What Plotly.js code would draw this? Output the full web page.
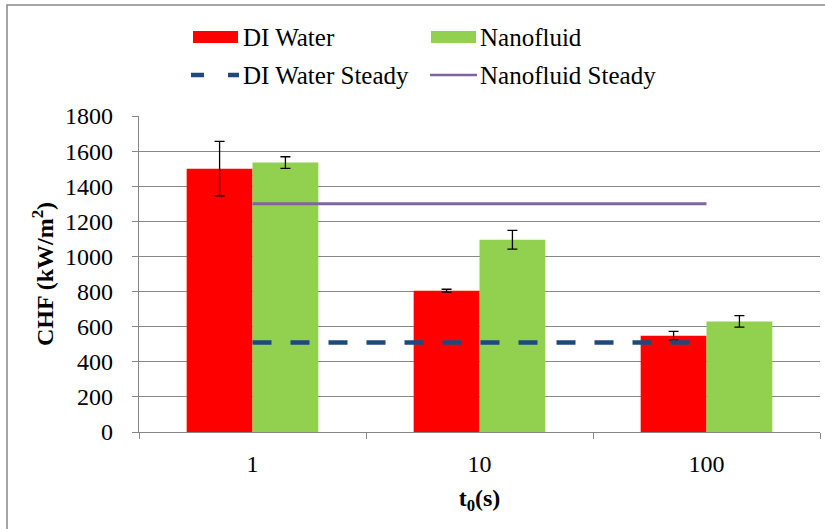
<!DOCTYPE html>
<html><head><meta charset="utf-8">
<script src="https://cdn.plot.ly/plotly-3.0.1.min.js"></script>
<style>html,body{margin:0;padding:0;background:#fff}</style>
</head><body><div id="chart" style="width:825px;height:529px"></div>
<script>
const categories = ['1', '10', '100'];
const diWater = [1500, 805, 548];
const diWaterErr = [155, 8, 25];
const nanofluid = [1535, 1095, 630];
const nanofluidErr = [33, 53, 33];
const diWaterSteady = [510, 510, 510];
const nanofluidSteady = [1300, 1300, 1300];
const seriesNames = ['DI Water', 'Nanofluid', 'DI Water Steady', 'Nanofluid Steady'];
const yTickVals = [0, 200, 400, 600, 800, 1000, 1200, 1400, 1600, 1800];

const colRed = '#FF0000', colGreen = '#92D050', colBlue = '#1F497D', colPurple = '#8064A2';
const FONT = 'Liberation Serif';

const W = 825, H = 529, L = 139, R = 5, T = 116, B = 97;
const pw = W - L - R, ph = H - T - B;
const px = x => (x - L) / pw;
const py = y => (H - B - y) / ph;

const traces = [
  {type: 'bar', name: seriesNames[0], x: categories, y: diWater,
   marker: {color: colRed}, showlegend: false,
   error_y: {type: 'data', array: diWaterErr, visible: true, color: '#000', thickness: 1.3, width: 5}},
  {type: 'bar', name: seriesNames[1], x: categories, y: nanofluid,
   marker: {color: colGreen}, showlegend: false,
   error_y: {type: 'data', array: nanofluidErr, visible: true, color: '#000', thickness: 1.3, width: 5}},
  {type: 'scatter', mode: 'lines', name: seriesNames[2], x: categories, y: diWaterSteady,
   line: {color: colBlue, width: 4.5, dash: '19px,19px'}, showlegend: false},
  {type: 'scatter', mode: 'lines', name: seriesNames[3], x: categories, y: nanofluidSteady,
   line: {color: colPurple, width: 3}, showlegend: false}
];

// manual legend (Excel style)
const legendItems = [
  {kind: 'bar', color: colRed, x0: 193, x1: 238, y: 37, tx: 241, name: seriesNames[0]},
  {kind: 'bar', color: colGreen, x0: 431, x1: 476, y: 37, tx: 478, name: seriesNames[1]},
  {kind: 'dash', color: colBlue, x0: 191, x1: 239, y: 75, tx: 241, name: seriesNames[2]},
  {kind: 'line', color: colPurple, x0: 430, x1: 477, y: 75, tx: 478, name: seriesNames[3]}
];
const shapes = [
  {type: 'rect', xref: 'paper', yref: 'paper', x0: px(7), x1: px(840), y0: py(545), y1: py(5),
   line: {color: '#888', width: 1.5}, fillcolor: 'rgba(0,0,0,0)', layer: 'below'}
];
const annotations = [];
legendItems.forEach(it => {
  if (it.kind === 'bar') {
    shapes.push({type: 'rect', xref: 'paper', yref: 'paper', x0: px(it.x0), x1: px(it.x1),
      y0: py(it.y + 6), y1: py(it.y - 6), fillcolor: it.color, line: {width: 0}});
  } else if (it.kind === 'dash') {
    shapes.push({type: 'line', xref: 'paper', yref: 'paper', x0: px(it.x0), x1: px(it.x1),
      y0: py(it.y), y1: py(it.y), line: {color: it.color, width: 4.5, dash: '13px,24px'}});
  } else {
    shapes.push({type: 'line', xref: 'paper', yref: 'paper', x0: px(it.x0), x1: px(it.x1),
      y0: py(it.y), y1: py(it.y), line: {color: it.color, width: 2.5}});
  }
  annotations.push({xref: 'paper', yref: 'paper', x: px(it.tx), y: py(it.y), xanchor: 'left', yanchor: 'middle',
    text: it.name, showarrow: false, font: {family: FONT, size: 25, color: '#000'}});
});

const layout = {
  width: W, height: H,
  margin: {l: L, r: R, t: T, b: B, pad: 0},
  paper_bgcolor: '#fff', plot_bgcolor: '#fff',
  barmode: 'group', bargap: 0.42, bargroupgap: 0,
  showlegend: false,
  font: {family: FONT, size: 24, color: '#000'},
  xaxis: {type: 'category', range: [-0.5, 2.5], showgrid: false, zeroline: false,
    showline: true, linecolor: '#868686', linewidth: 1.2,
    ticks: 'outside', tickson: 'boundaries', ticklen: 6, tickcolor: '#868686',
    tickfont: {family: FONT, size: 24, color: '#000'}, ticklabelstandoff: 10,
    title: {text: '<b>t<sub>0</sub>(s)</b>', font: {family: FONT, size: 24, color: '#000'}, standoff: 13}},
  yaxis: {range: [0, 1800], tickvals: yTickVals, showgrid: true, gridcolor: '#888', gridwidth: 1,
    zeroline: false, showline: true, linecolor: '#868686', linewidth: 1.2,
    ticks: 'outside', ticklen: 6, tickcolor: '#868686',
    tickfont: {family: FONT, size: 24, color: '#000'}, ticklabelstandoff: 14,
    title: {text: '<b>CHF (kW/m<sup>2</sup>)</b>', font: {family: FONT, size: 24, color: '#000'}, standoff: 4}},
  shapes: shapes,
  annotations: annotations
};

Plotly.newPlot('chart', traces, layout, {displayModeBar: false, staticPlot: true});
</script></body></html>
